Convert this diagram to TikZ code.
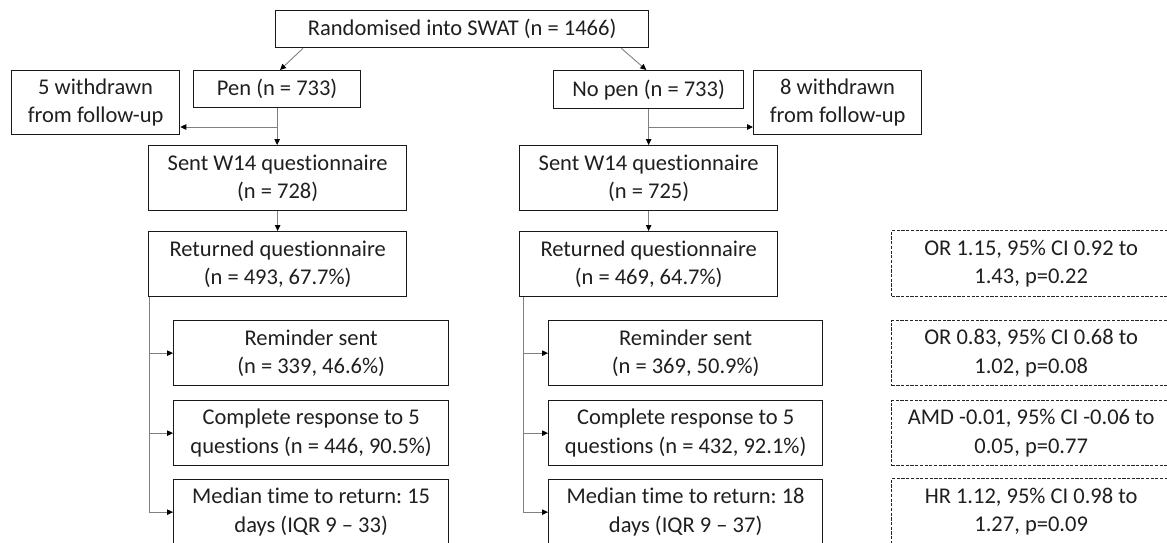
\documentclass[tikz,border=0pt]{standalone}
\usepackage{fontspec}
\setmainfont[Ligatures={TeX,NoCommon}]{Carlito}
\usetikzlibrary{arrows.meta}
\frenchspacing
\tikzset{
  box/.style={draw=black!90, line width=1.3pt, rectangle, inner sep=0pt, align=center, anchor=north west, text=black!88, font=\fontsize{22.5}{28.5}\selectfont\frenchspacing},
  dbox/.style={box, draw=black!85, line width=1.3pt, dash pattern=on 3.2pt off 1.5pt},
  conn/.style={draw=black!50, line width=0.9pt},
  arr/.style={conn, -{Triangle[length=6pt,width=5.5pt,fill=black,color=black]}},
}
\begin{document}
\begin{tikzpicture}[x=1pt,y=-1pt]
\useasboundingbox (0,0) rectangle (1167,542);
\clip (0,0) rectangle (1167,542);
% top
\node[box, minimum width=373, minimum height=37] (top) at (275,10) {Randomised into SWAT (n = 1466)};
% arms
\node[box, minimum width=167, minimum height=37] (pen) at (193,70) {Pen (n = 733)};
\node[box, minimum width=190, minimum height=38] (nopen) at (553,70) {No pen (n = 733)};
\node[box, minimum width=168, minimum height=64] (wd5) at (11,70) {5 withdrawn\\from follow-up};
\node[box, minimum width=168, minimum height=64] (wd8) at (753,70) {8 withdrawn\\from follow-up};
% sent
\node[box, minimum width=258, minimum height=65] (sentL) at (148,145) {Sent W14 questionnaire\\(n = 728)};
\node[box, minimum width=258, minimum height=65] (sentR) at (519,145) {Sent W14 questionnaire\\(n = 725)};
% returned
\node[box, minimum width=258, minimum height=65] (retL) at (148,231) {Returned questionnaire\\(n = 493, 67.7\%)};
\node[box, minimum width=258, minimum height=65] (retR) at (519,231) {Returned questionnaire\\(n = 469, 64.7\%)};
% sub boxes left
\node[box, minimum width=275, minimum height=65] (remL) at (173,320) {Reminder sent\\(n = 339, 46.6\%)};
\node[box, minimum width=275, minimum height=65] (compL) at (173,400) {Complete response to 5\\questions (n = 446, 90.5\%)};
\node[box, minimum width=275, minimum height=65] (medL) at (173,479) {Median time to return: 15\\days (IQR 9 -- 33)};
% sub boxes right
\node[box, minimum width=274, minimum height=65] (remR) at (548,320) {Reminder sent\\(n = 369, 50.9\%)};
\node[box, minimum width=274, minimum height=65] (compR) at (548,400) {Complete response to 5\\questions (n = 432, 92.1\%)};
\node[box, minimum width=274, minimum height=65] (medR) at (548,479) {Median time to return: 18\\days (IQR 9 -- 37)};
% dashed stats
\node[dbox, minimum width=279, minimum height=66] (s1) at (891,230) {OR 1.15, 95\% CI 0.92 to\\1.43, p=0.22};
\node[dbox, minimum width=279, minimum height=65] (s2) at (891,320) {OR 0.83, 95\% CI 0.68 to\\1.02, p=0.08};
\node[dbox, minimum width=279, minimum height=65] (s3) at (891,400) {AMD -0.01, 95\% CI -0.06 to\\0.05, p=0.77};
\node[dbox, minimum width=279, minimum height=66] (s4) at (891,478) {HR 1.12, 95\% CI 0.98 to\\1.27, p=0.09};
% connectors
\draw[arr] ([xshift=28]top.south west) -- ([xshift=87]pen.north west);
\draw[arr] ([xshift=-28]top.south east) -- ([xshift=-98]nopen.north east);
\coordinate (bL) at (pen.south |- 0,127);
\coordinate (bR) at (nopen.south |- 0,127);
\draw[arr] (pen.south) -- (pen.south |- sentL.north);
\draw[arr] (bL) -- (bL -| wd5.east);
\draw[arr] (nopen.south) -- (nopen.south |- sentR.north);
\draw[arr] (bR) -- (bR -| wd8.west);
\draw[arr] (sentL.south) -- (sentL.south |- retL.north);
\draw[arr] (sentR.south) -- (sentR.south |- retR.north);
\coordinate (lL) at ([xshift=1.5]retL.south west);
\coordinate (lR) at ([xshift=4]retR.south west);
\draw[arr] (lL) |- (remL.west);
\draw[arr] (lL) |- (compL.west);
\draw[arr] (lL) |- (medL.west);
\draw[arr] (lR) |- (remR.west);
\draw[arr] (lR) |- (compR.west);
\draw[arr] (lR) |- (medR.west);
\end{tikzpicture}
\end{document}
